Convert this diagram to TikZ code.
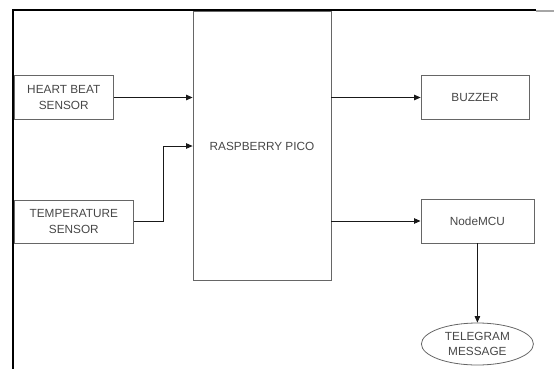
\documentclass[tikz,border=0pt]{standalone}
\usepackage{fontspec}
\setmainfont{Liberation Sans}
\usetikzlibrary{shapes.geometric,arrows.meta}
\begin{document}
\begin{tikzpicture}[x=1pt,y=-1pt,
  box/.style={draw=black!60, line width=0.8pt, rectangle, inner sep=0pt,
    font=\fontsize{11.8}{15.5}\selectfont, text=black!72, align=center},
  oval/.style={box, ellipse},
  arr/.style={-{Triangle[length=6.5pt,width=5.5pt]}, line width=0.8pt, black!90}]
\useasboundingbox (0,0) rectangle (554,369);
\draw[line width=1.4pt] (13,369) -- (13,10) -- (536,10);
\draw[black!35, line width=1.4pt] (536,11) -- (554,11);
\node[box, minimum width=99.5pt, minimum height=44pt] (hb) at (63.75,97.5) {HEART BEAT\\SENSOR};
\node[box, minimum width=119.5pt, minimum height=43pt] (tmp) at (73.8,221.5) {TEMPERATURE\\SENSOR};
\node[box, minimum width=138pt, minimum height=269pt] (pico) at (262,146) {RASPBERRY PICO};
\node[box, minimum width=108pt, minimum height=44pt] (bz) at (475,97.5) {BUZZER};
\node[box, minimum width=113pt, minimum height=44pt] (nm) at (477.4,221) {NodeMCU};
\node[oval, minimum width=112pt, minimum height=42pt] (tg) at (477.4,344) {TELEGRAM\\MESSAGE};
\draw[arr] (hb.east) -- (hb.east -| pico.west);
\draw[arr] (tmp.east) -- ++(29.5,0) |- (pico.west);
\draw[arr] (pico.east |- bz.west) -- (bz.west);
\draw[arr] (pico.east |- nm.west) -- (nm.west);
\draw[arr] (nm.south) -- (tg.north);
\end{tikzpicture}
\end{document}
